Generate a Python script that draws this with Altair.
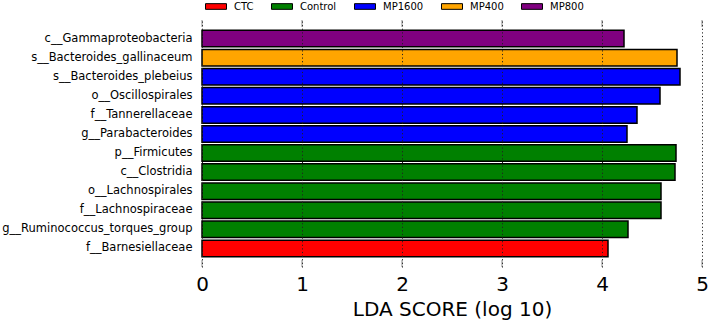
import altair as alt
import pandas as pd

# LEfSe discriminant features, listed top to bottom
features = [
    "c__Gammaproteobacteria",
    "s__Bacteroides_gallinaceum",
    "s__Bacteroides_plebeius",
    "o__Oscillospirales",
    "f__Tannerellaceae",
    "g__Parabacteroides",
    "p__Firmicutes",
    "c__Clostridia",
    "o__Lachnospirales",
    "f__Lachnospiraceae",
    "g__Ruminococcus_torques_group",
    "f__Barnesiellaceae",
]
groups = [
    "MP800", "MP400", "MP1600", "MP1600", "MP1600", "MP1600",
    "Control", "Control", "Control", "Control", "Control", "CTC",
]
lda_scores = [4.22, 4.75, 4.78, 4.58, 4.35, 4.25, 4.74, 4.73, 4.59, 4.59, 4.26, 4.06]

group_names = ["CTC", "Control", "MP1600", "MP400", "MP800"]
group_colors = ["#ff0000", "#008000", "#0000ff", "#ffa500", "#800080"]
x_ticks = [0, 1, 2, 3, 4, 5]

bars_df = pd.DataFrame({"feature": features, "group": groups, "score": lda_scores})
ticks_df = pd.DataFrame({"tick": x_ticks})

x_scale = alt.Scale(domain=[0, 5], nice=False, zero=True)

bars = alt.Chart(bars_df).mark_bar(stroke="black", strokeWidth=1.5).encode(
    y=alt.Y(
        "feature:N",
        sort=features,
        scale=alt.Scale(paddingInner=0.135, paddingOuter=0.54),
        axis=alt.Axis(
            title=None, ticks=False, domain=False, labelFontSize=11.5,
            labelColor="black", labelPadding=10, labelLimit=400,
        ),
    ),
    x=alt.X(
        "score:Q",
        scale=x_scale,
        axis=alt.Axis(
            values=x_ticks, format="d", title="LDA SCORE (log 10)",
            domain=False, ticks=False, labelFontSize=20, labelColor="black",
            labelPadding=7, labelFlush=False, titleFontSize=20,
            titleFontWeight="normal", titleColor="black",
            titleBaseline="alphabetic", titleY=48,
            grid=True, gridColor="#222222", gridDash=[1.2, 2.4], gridWidth=1,
            zindex=1,
        ),
    ),
    fill=alt.Fill(
        "group:N",
        scale=alt.Scale(domain=group_names, range=group_colors),
        legend=alt.Legend(
            title=None, orient="none", direction="horizontal",
            legendX=3, legendY=-24.5, padding=0,
            symbolType="M-1,-0.27L1,-0.27L1,0.27L-1,0.27Z", symbolSize=441,
            symbolStrokeColor="black", symbolStrokeWidth=1, symbolOpacity=1,
            labelFontSize=10, labelColor="black", labelOffset=7,
            columnPadding=15,
        ),
    ),
)

# short solid tick segments at the top and bottom of each grid line
top_ticks = alt.Chart(ticks_df).mark_rule(color="#888888", strokeWidth=1).encode(
    x=alt.X("tick:Q", scale=x_scale),
    y=alt.value(0),
    y2=alt.value(7),
)
bottom_ticks = alt.Chart(ticks_df).mark_rule(color="#888888", strokeWidth=1).encode(
    x=alt.X("tick:Q", scale=x_scale),
    y=alt.value(240),
    y2=alt.value(247),
)

chart = (
    alt.layer(bars, top_ticks, bottom_ticks)
    .properties(
        width=500,
        height=247,
        autosize=alt.AutoSizeParams(type="none"),
        padding={"left": 202, "top": 20, "right": 7, "bottom": 55},
    )
    .configure(font="DejaVu Sans")
    .configure_view(stroke=None)
)

chart.save("out.html", embed_options={"renderer": "svg", "actions": False})
